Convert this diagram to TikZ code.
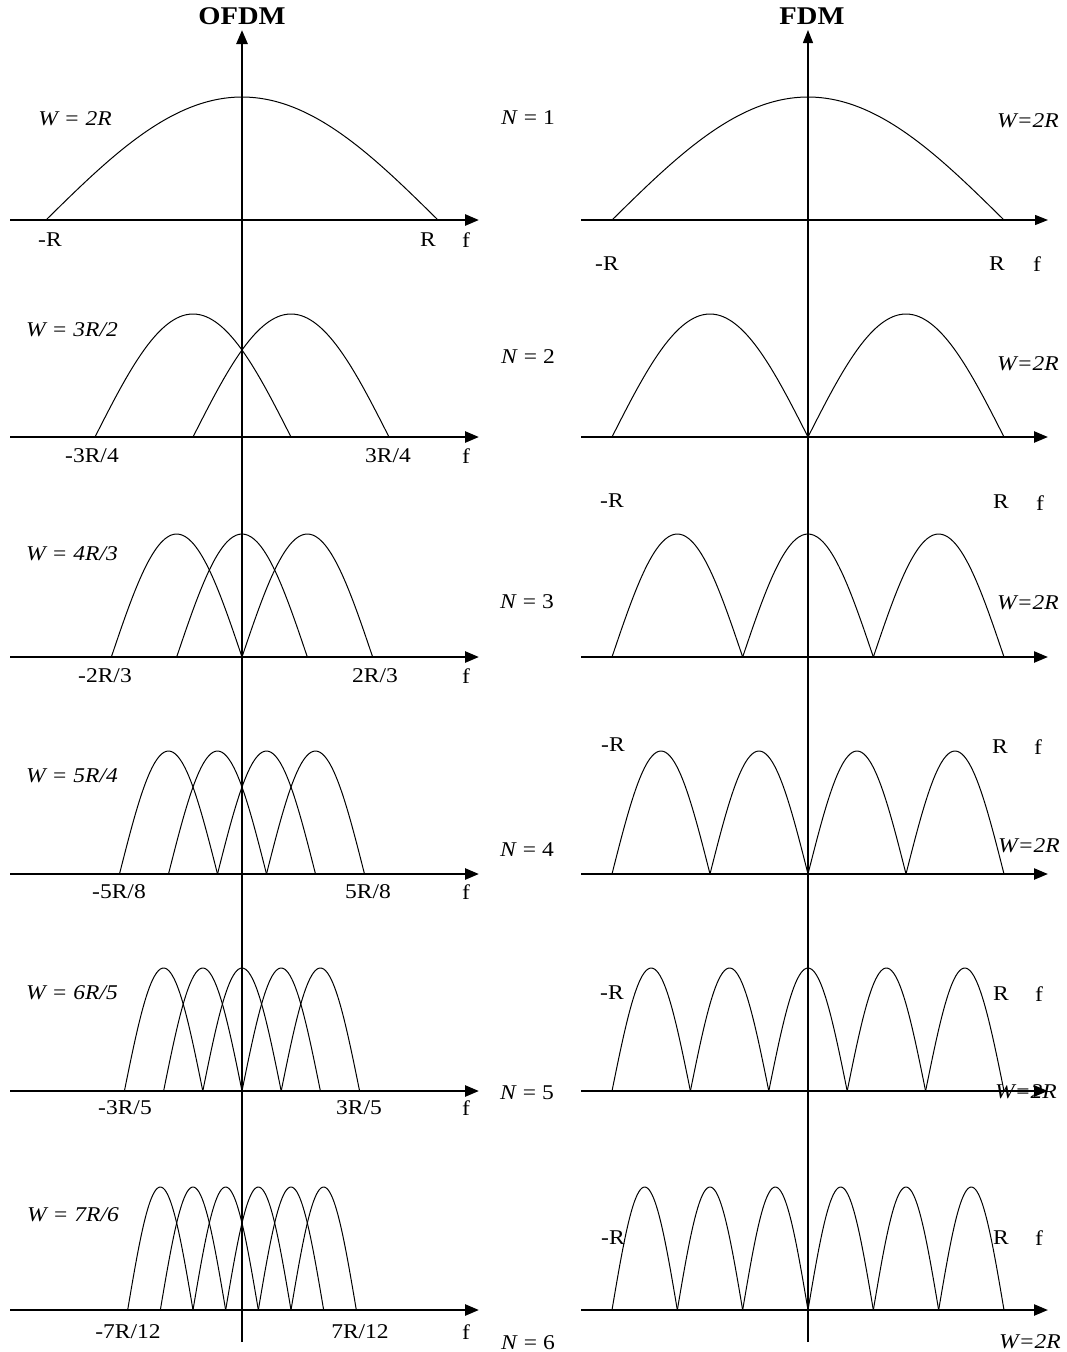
\documentclass[tikz,border=0pt]{standalone}
\usepackage{fontspec}
\setmainfont{Liberation Serif}[FakeStretch=1.12]
\usetikzlibrary{arrows.meta}
\newcommand{\drawhump}[3]{%
  \pgfmathsetmacro\humpw{(#2-#1)/180}%
  \draw[curve] plot[domain=0:180,samples=45,smooth] ({#1+\humpw*\x},{#3-123*sin(\x)});}
\begin{document}
\begin{tikzpicture}[x=1pt,y=-1pt,
  lbl/.style={inner sep=0pt, font=\fontsize{21}{24}\selectfont},
  ttl/.style={inner sep=0pt, font=\fontsize{25.5}{28}\selectfont\bfseries},
  axthick/.style={line width=2.6pt, -{Triangle[length=14pt,width=11pt]}},
  axmid/.style={line width=2.4pt, -{Triangle[length=14pt,width=11pt]}},
  axthin/.style={line width=1.2pt, -{Triangle[length=13pt,width=10pt]}},
  curve/.style={line width=1pt, line join=round}]
\fill[white] (0,0) rectangle (1067,1352);
\useasboundingbox (0,0) rectangle (1067,1352);

% ---------- humps ----------
\foreach \N/\ya in {1/220,2/437,3/657,4/874,5/1091,6/1310}{
  \foreach \k in {1,...,\N}{
    \pgfmathsetmacro\oa{242+196*(-(\N+1)/(2*\N)+(\k-1)/\N)}
    \pgfmathsetmacro\ob{\oa+2*196/\N}
    \drawhump{\oa}{\ob}{\ya}
    \pgfmathsetmacro\fa{808+196*(-1+2*(\k-1)/\N)}
    \pgfmathsetmacro\fb{\fa+2*196/\N}
    \drawhump{\fa}{\fb}{\ya}
  }
}

% ---------- axes ----------
\coordinate (oB) at (242,1342);
\coordinate (oT) at (242,30);
\coordinate (fB) at (808,1342);
\coordinate (fT) at (808,30);
\foreach \N/\ya in {1/220,2/437,3/657,4/874,5/1091,6/1310}{
  \coordinate (oL\N) at (10,\ya);
  \coordinate (oR\N) at (479,\ya);
  \coordinate (fL\N) at (581,\ya);
  \coordinate (fR\N) at (1048,\ya);
}
\draw[axthick] (oB) -- (oT);
\draw[axthin] (fB) -- (fT);
\foreach \N in {1,...,6}{ \draw[axthick] (oL\N) -- (oR\N); }
\draw[axthin] (fL1) -- (fR1);
\foreach \N in {2,...,6}{ \draw[axmid] (fL\N) -- (fR\N); }

% ---------- titles ----------
\node[ttl] (tO) at (242,16) {OFDM};
\node[ttl] (tF) at (812,16) {FDM};

% ---------- OFDM labels ----------
\node[lbl] (w1) at (75,119) {\textit{W = 2R}};
\node[lbl] (w2) at (72,330) {\textit{W = 3R/2}};
\node[lbl] (w3) at (72,554) {\textit{W = 4R/3}};
\node[lbl] (w4) at (72,776) {\textit{W = 5R/4}};
\node[lbl] (w5) at (72,993) {\textit{W = 6R/5}};
\node[lbl] (w6) at (73,1215) {\textit{W = 7R/6}};

\node[lbl] (a1) at (50,240) {-R};
\node[lbl] (b1) at (428,240) {R};
\node[lbl] (a2) at (92,456) {-3R/4};
\node[lbl] (b2) at (388,456) {3R/4};
\node[lbl] (a3) at (105,676) {-2R/3};
\node[lbl] (b3) at (375,676) {2R/3};
\node[lbl] (a4) at (119,892) {-5R/8};
\node[lbl] (b4) at (368,892) {5R/8};
\node[lbl] (a5) at (125,1108) {-3R/5};
\node[lbl] (b5) at (359,1108) {3R/5};
\node[lbl] (a6) at (128,1332) {-7R/12};
\node[lbl] (b6) at (360,1332) {7R/12};
\foreach \N/\yl in {1/240,2/456,3/676,4/892,5/1108,6/1332}{
  \node[lbl] (of\N) at (466,\yl) {f};
}

% ---------- N labels ----------
\node[lbl] (n1) at (528,118) {\textit{N} = 1};
\node[lbl] (n2) at (528,357) {\textit{N} = 2};
\node[lbl] (n3) at (527,602) {\textit{N} = 3};
\node[lbl] (n4) at (527,850) {\textit{N} = 4};
\node[lbl] (n5) at (527,1093) {\textit{N} = 5};
\node[lbl] (n6) at (528,1343) {\textit{N} = 6};

% ---------- FDM labels ----------
\node[lbl] (fw1) at (1028,121) {\textit{W=2R}};
\node[lbl] (fw2) at (1028,364) {\textit{W=2R}};
\node[lbl] (fw3) at (1028,603) {\textit{W=2R}};
\node[lbl] (fw4) at (1029,846) {\textit{W=2R}};
\node[lbl] (fw5) at (1026,1092) {\textit{W=2R}};
\node[lbl] (fw6) at (1030,1342) {\textit{W=2R}};

\node[lbl] (fa1) at (607,264) {-R};
\node[lbl] (fb1) at (997,264) {R};
\node[lbl] (ff1) at (1037,264) {f};
\node[lbl] (fa2) at (612,501) {-R};
\node[lbl] (fb2) at (1001,502) {R};
\node[lbl] (ff2) at (1040,503) {f};
\node[lbl] (fa3) at (613,745) {-R};
\node[lbl] (fb3) at (1000,747) {R};
\node[lbl] (ff3) at (1038,747) {f};
\node[lbl] (fa4) at (612,993) {-R};
\node[lbl] (fb4) at (1001,994) {R};
\node[lbl] (ff4) at (1039,994) {f};
\node[lbl] (fa5) at (613,1238) {-R};
\node[lbl] (fb5) at (1001,1238) {R};
\node[lbl] (ff5) at (1039,1238) {f};
\end{tikzpicture}
\end{document}
